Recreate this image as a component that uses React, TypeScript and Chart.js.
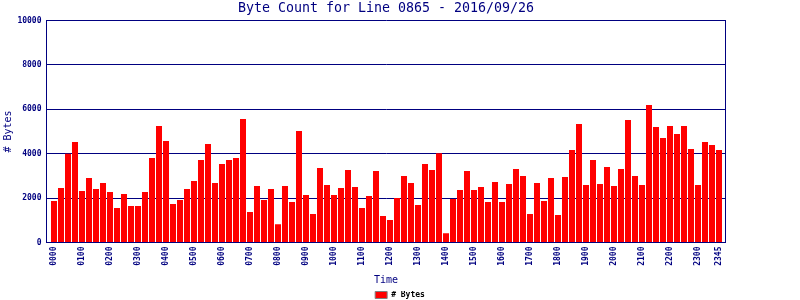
import React, { useEffect, useRef } from "react";
import { Chart, registerables } from "chart.js";

Chart.register(...registerables);

const NAVY = "#000080";
const MONO = "'DejaVu Sans Mono', monospace";

const chartTitle = "Byte Count for Line 0865 - 2016/09/26";
const seriesLabel = "# Bytes";
const xAxisTitle = "Time";
const yAxisTitle = "# Bytes";

// 15-minute intervals, 0000 .. 2345
const timeLabels: string[] = [];
for (let h = 0; h < 24; h++) {
  for (let m = 0; m < 60; m += 15) {
    timeLabels.push(String(h).padStart(2, "0") + String(m).padStart(2, "0"));
  }
}

const byteCounts = [
  1865, 2450, 4000, 4530, 2316, 2900, 2406, 2677, 2271, 1549,
  2180, 1640, 1640, 2271, 3805, 5250, 4572, 1730, 1910, 2406,
  2767, 3715, 4437, 2677, 3534, 3715, 3805, 5565, 1369, 2542,
  1910, 2406, 827, 2542, 1820, 5023, 2136, 1278, 3354, 2587,
  2136, 2451, 3264, 2497, 1549, 2091, 3219, 1188, 1008, 2000,
  2993, 2677, 1684, 3534, 3264, 4016, 421, 1955, 2361, 3219,
  2361, 2497, 1820, 2722, 1820, 2632, 3309, 2993, 1278, 2677,
  1865, 2903, 1233, 2948, 4166, 5339, 2587, 3715, 2632, 3399,
  2542, 3309, 5520, 2993, 2587, 6196, 5204, 4708, 5250, 4888,
  5250, 4211, 2587, 4527, 4392, 4166,
];

// indices of the time labels that are shown on the axis
const tickIndices = [0, 4, 8, 12, 16, 20, 24, 28, 32, 36, 40, 44, 48, 52, 56, 60, 64, 68, 72, 76, 80, 84, 88, 92, 95];

const yMax = 10000;
const yStep = 2000;

export default function App() {
  const canvasRef = useRef<HTMLCanvasElement | null>(null);

  useEffect(() => {
    const canvas = canvasRef.current;
    if (!canvas) return;
    const chart = new Chart(canvas, {
      type: "bar",
      data: {
        datasets: [
          {
            label: seriesLabel,
            data: byteCounts.map((v, i) => ({ x: i, y: v })),
            backgroundColor: "#ff0000",
            borderWidth: 0,
            barThickness: 6,
            inflateAmount: 0,
          },
        ],
      },
      options: {
        responsive: false,
        animation: false,
        devicePixelRatio: 1,
        layout: { padding: { left: 0, right: 0, top: 0, bottom: 0 } },
        plugins: {
          title: {
            display: true,
            text: chartTitle,
            color: NAVY,
            fullSize: false,
            font: { family: MONO, size: 13.3, weight: "normal" },
            padding: { top: 0.5, bottom: 4 },
          },
          legend: {
            position: "bottom",
            maxHeight: 9,
            labels: {
              boxWidth: 12,
              boxHeight: 7,
              padding: 0,
              color: NAVY,
              font: { family: MONO, size: 8, weight: "bold" },
              generateLabels: () => [
                {
                  text: seriesLabel,
                  fillStyle: "#ff0000",
                  strokeStyle: "#808080",
                  lineWidth: 1,
                  datasetIndex: 0,
                  hidden: false,
                } as any,
              ],
            },
          },
          tooltip: { enabled: false },
        },
        scales: {
          x: {
            type: "linear",
            offset: false,
            min: -15 / 14,
            max: 95 + 13 / 14,
            afterBuildTicks: (s: any) => {
              s.ticks = tickIndices.map((v) => ({ value: v }));
            },
            afterFit: (s: any) => {
              s.height = 48.5;
            },
            ticks: {
              autoSkip: false,
              minRotation: 90,
              maxRotation: 90,
              padding: 4,
              color: NAVY,
              font: { family: MONO, size: 8, weight: "bold" },
              callback: (v: any) => timeLabels[v] ?? "",
            },
            grid: { display: false, drawTicks: false, offset: false },
            border: { display: true, color: NAVY, width: 1 },
            title: {
              display: true,
              text: xAxisTitle,
              color: NAVY,
              font: { family: MONO, size: 10, weight: "normal" },
              padding: { top: 0, bottom: 5 },
            },
          },
          y: {
            position: "left",
            min: 0,
            max: yMax,
            afterFit: (s: any) => {
              s.width = 46.5;
            },
            ticks: {
              stepSize: yStep,
              padding: 5,
              color: NAVY,
              font: { family: MONO, size: 8, weight: "bold" },
              callback: (v: any) => String(v),
            },
            grid: { color: NAVY, lineWidth: 1, drawTicks: false },
            border: { display: true, color: NAVY, width: 1 },
            title: {
              display: true,
              text: yAxisTitle,
              color: NAVY,
              font: { family: MONO, size: 10, weight: "normal" },
              padding: { top: 2, bottom: 0 },
            },
          },
          yRight: {
            position: "right",
            min: 0,
            max: yMax,
            afterFit: (s: any) => {
              s.width = 74.5;
            },
            ticks: { display: false },
            grid: { drawOnChartArea: false, drawTicks: false },
            border: { display: true, color: NAVY, width: 1 },
          },
        },
      } as any,
    });
    return () => chart.destroy();
  }, []);

  return (
    <div style={{ position: "absolute", left: 0, top: 0, width: 800, height: 300, background: "#fff" }}>
      <canvas ref={canvasRef} width={800} height={300} style={{ display: "block", width: 800, height: 300 }} />
    </div>
  );
}
